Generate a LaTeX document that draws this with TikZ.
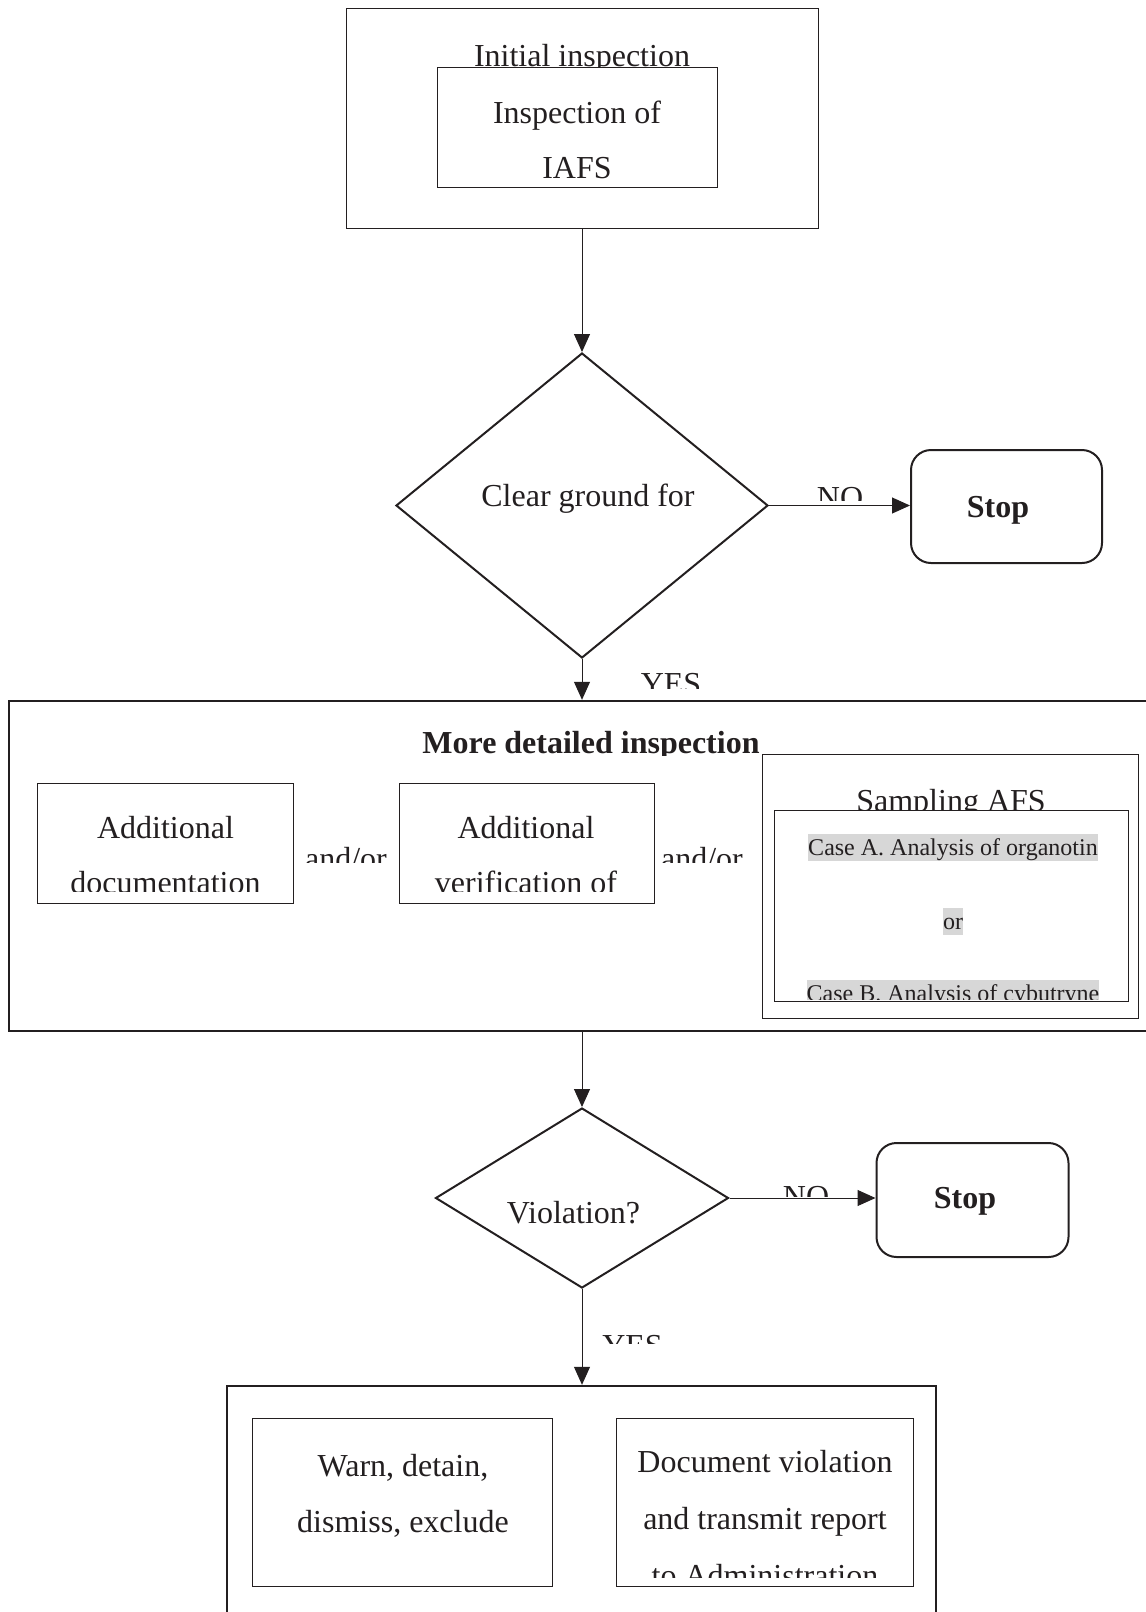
\documentclass[tikz,border=0pt]{standalone}
\usepackage{fontspec}
\setmainfont{Liberation Serif}
\usepackage{tikz}
\usetikzlibrary{positioning, arrows.meta, shapes.geometric}
\definecolor{ink}{HTML}{231F20}
\definecolor{hilite}{HTML}{D7D7D7}

\begin{document}
\begin{tikzpicture}[x=0.5pt, y=-0.5pt, >={Triangle[length=9pt,width=8pt]},
  every node/.style={inner sep=0pt, text=ink},
  txt/.style={align=center, font=\fontsize{16}{27.5}\selectfont,
    execute at begin node=\strut, execute at end node=\strut},
  boldtxt/.style={txt, font=\fontsize{16}{27.5}\selectfont\bfseries},
  box/.style={draw=ink, line width=0.5pt, fill=white},
  bigbox/.style={draw=ink, line width=1.2pt},
  choice/.style={draw=ink, diamond, line width=1pt},
  stopbox/.style={draw=ink, line width=1pt, rounded corners=10pt},
  case/.style={fill=hilite, font=\fontsize{12}{14}\selectfont, text height=10.5pt, text depth=3pt, anchor=base},
  flow/.style={->, draw=ink, line width=0.5pt}]
\useasboundingbox (0,0) rectangle (1146,1612);

% initial inspection
\node[box, minimum width=236pt, minimum height=110pt] (init) at (582,118) {};
\node[txt, anchor=base] (inittxt) at (582,66) {Initial inspection};
\node[box, minimum width=140pt, minimum height=60pt] (iafs) at (577,127) {};
\node[txt] (iafstxt) at (577,147.5) {Inspection of\\IAFS};

% first decision
\node[choice, minimum width=186pt, minimum height=152.5pt] (d1) at (582,505.5) {};
\node[txt] (d1txt) at (588,495) {Clear ground for};
\node[stopbox, minimum width=95.5pt, minimum height=56.5pt] (stop1) at (1006.5,506.5) {};
\node[boldtxt] (stop1txt) at (998,506) {Stop};
\begin{scope}
  \clip (800,470) rectangle (880,500);
  \node[txt, anchor=base] (no1) at (840,508) {NO};
\end{scope}
\begin{scope}
  \clip (630,660) rectangle (720,688);
  \node[txt, anchor=base] (yes1) at (671,694) {YES};
\end{scope}

% more detailed inspection
\node[bigbox, minimum width=575.5pt, minimum height=165pt] (mid) at (584.5,866) {};
\begin{scope}
  \clip (300,715) rectangle (900,755);
  \node[boldtxt, anchor=base] (midtxt) at (591,753) {More detailed inspection};
\end{scope}
\node[box, minimum width=128pt, minimum height=60pt] (addoc) at (165,843) {};
\begin{scope}
  \clip (40,786) rectangle (290,891);
  \node[txt] (addoctxt) at (165.5,863.5) {Additional\\documentation};
\end{scope}
\node[box, minimum width=127.5pt, minimum height=60pt] (addver) at (526.5,843) {};
\begin{scope}
  \clip (402,786) rectangle (651,891);
  \node[txt] (addvertxt) at (526,863.5) {Additional\\verification of};
\end{scope}
\begin{scope}
  \clip (300,830) rectangle (395,862);
  \node[txt, anchor=base] (andor1) at (346,869) {and/or};
\end{scope}
\begin{scope}
  \clip (656,830) rectangle (755,862);
  \node[txt, anchor=base] (andor2) at (702,869) {and/or};
\end{scope}
\node[box, minimum width=188pt, minimum height=132pt] (sampling) at (950,886) {};
\node[txt, anchor=base] (samplingtxt) at (951,811) {Sampling AFS};
\node[box, minimum width=177pt, minimum height=95.5pt] (cases) at (951,905.5) {};
\node[case] (casea) at (953,855) {Case A. Analysis of organotin};
\node[case] (caseor) at (953,929) {or};
\begin{scope}
  \clip (776,970) rectangle (1126,999);
  \node[case] (caseb) at (953,1001) {Case B. Analysis of cybutryne};
\end{scope}

% second decision
\node[choice, minimum width=146.5pt, minimum height=90pt] (d2) at (582,1198) {};
\node[txt] (d2txt) at (573.5,1212) {Violation?};
\node[stopbox, minimum width=96pt, minimum height=57pt] (stop2) at (972.5,1200) {};
\node[boldtxt] (stop2txt) at (965,1197) {Stop};
\begin{scope}
  \clip (780,1170) rectangle (835,1196);
  \node[txt, anchor=base] (no2) at (806,1207) {NO};
\end{scope}
\begin{scope}
  \clip (600,1320) rectangle (670,1343);
  \node[txt, anchor=base] (yes2) at (632.5,1356) {YES};
\end{scope}

% measures
\node[bigbox, minimum width=354.5pt, minimum height=127pt] (bot) at (581.5,1513) {};
\node[box, minimum width=150pt, minimum height=84pt] (warn) at (402,1502) {};
\node[txt, font=\fontsize{16}{28}\selectfont] (warntxt) at (403,1502) {Warn, detain,\\dismiss, exclude};
\node[box, minimum width=148.25pt, minimum height=84pt] (report) at (765,1502) {};
\begin{scope}
  \clip (620,1421) rectangle (911,1577);
  \node[txt, font=\fontsize{16}{28.5}\selectfont] (reporttxt) at (765,1527) {Document violation\\and transmit report\\to Administration};
\end{scope}

% connectors
\draw[flow] (init.south) -- (d1.north);
\draw[flow] (d1.east) -- (d1.east -| stop1.west);
\draw[flow] (d1.south) -- (d1.south |- mid.north);
\draw[flow] (d2.north |- mid.south) -- (d2.north);
\draw[flow] (d2.east) -- (d2.east -| stop2.west);
\draw[flow] (d2.south) -- (d2.south |- bot.north);
\end{tikzpicture}
\end{document}
